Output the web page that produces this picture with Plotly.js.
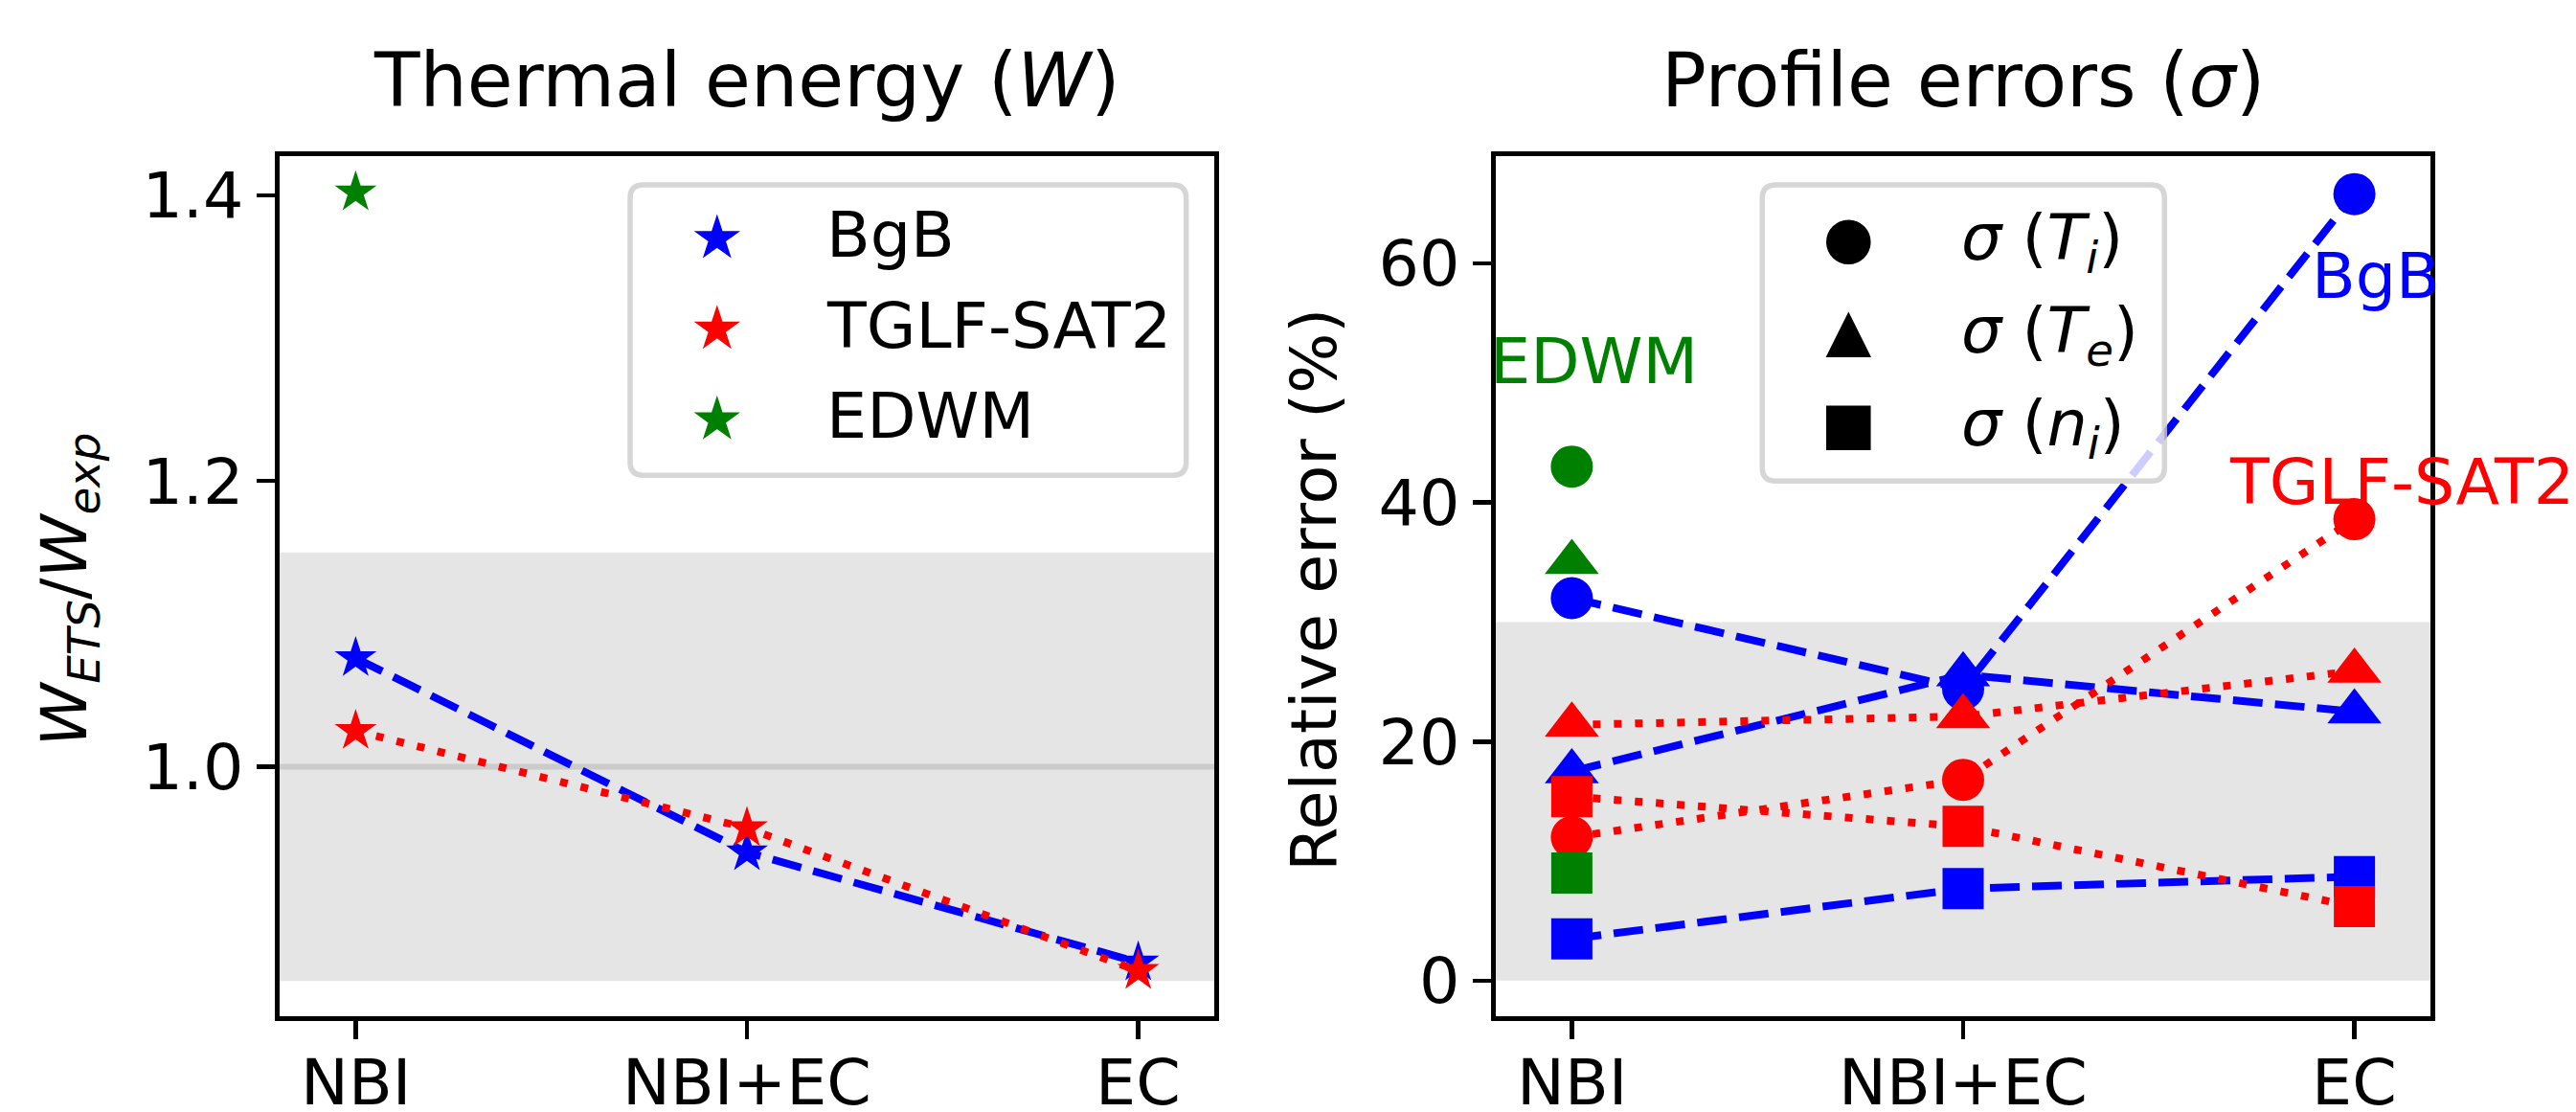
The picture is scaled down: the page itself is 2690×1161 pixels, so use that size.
<!DOCTYPE html>
<html>
<head>
<meta charset="utf-8">
<script src="https://cdn.plot.ly/plotly-3.0.1.min.js"></script>
<style>
html,body{margin:0;padding:0;background:#ffffff;}
#chart{width:2690px;height:1161px;}
</style>
</head>
<body>
<div id="chart"></div>
<script>
// ---------------- DATA ----------------
const categories = ['NBI', 'NBI+EC', 'EC'];

// Thermal energy ratio W_ETS / W_exp
const energyBgB  = [1.076, 0.940, 0.863];
const energyTGLF = [1.025, 0.957, 0.857];
const energyEDWMCats = ['NBI'];
const energyEDWM = [1.402];
const energyBand = [0.85, 1.15];
const energyRef  = [1.0];
const energyTicks = [1.0, 1.2, 1.4];

// Profile errors (%)
const errBgBTi  = [32.0, 24.4, 65.8];
const errBgBTe  = [17.5, 25.6, 22.5];
const errBgBni  = [3.5, 7.7, 8.7];
const errTGLFTi = [12.0, 16.8, 38.6];
const errTGLFTe = [21.4, 22.1, 25.9];
const errTGLFni = [15.4, 12.9, 6.2];
const errEDWMCats = ['NBI'];
const errEDWMTi = [43.0];
const errEDWMTe = [35.0];
const errEDWMni = [9.0];
const errorBand = [0, 30];
const errorTicks = [0, 20, 40, 60];

const modelNames = ['BgB', 'TGLF-SAT2', 'EDWM'];
const quantityLabels = [
  '<i>σ</i> (<i>T</i><sub><i>i</i></sub>)',
  '<i>σ</i> (<i>T</i><sub><i>e</i></sub>)',
  '<i>σ</i> (<i>n</i><sub><i>i</i></sub>)'
];

// ---------------- STYLE / LAYOUT ----------------
const W = 2690, H = 1161;
const FONT = 'DejaVu Sans, sans-serif';
const colors = {BgB: '#0000ff', TGLF: '#ff0000', EDWM: '#008000'};
const LW = 8;
const dashed = '31px,13px';
const dotted = '8px,14px';
const starSize = 33, circSize = 44, triSize = 49, sqSize = 43;
const tickFont = 66.7, titleFont = 77.8;

const leftPx = [291.7, 1268.3], rightPx = [1561.7, 2538.3], vPx = [162.7, 1061.3];
const fx = p => p / W;
const fy = p => 1 - p / H;
const xRange = [-0.195, 2.195];
const yRange1 = [0.8251, 1.4276];
const yRange2 = [-3.0, 69.0];

function axisX(domainPx, anchor) {
  return {
    domain: [fx(domainPx[0]), fx(domainPx[1])], anchor: anchor,
    type: 'category', categoryarray: categories, range: xRange,
    showline: true, linewidth: 4.5, linecolor: '#000', mirror: true,
    ticks: 'outside', ticklen: 19.4, tickwidth: 4.5, tickcolor: '#000',
    showticklabels: false, showgrid: false, zeroline: false
  };
}
function axisY(range, ticks, fmt, anchor) {
  return {
    domain: [fy(vPx[1]), fy(vPx[0])], anchor: anchor, range: range,
    tickvals: ticks, ticktext: ticks.map(v => fmt(v)),
    showline: true, linewidth: 4.5, linecolor: '#000', mirror: true,
    ticks: 'outside', ticklen: 19.4, tickwidth: 4.5, tickcolor: '#000',
    showgrid: false, zeroline: false,
    tickfont: {family: FONT, size: tickFont, color: '#000'}
  };
}
function pixelAxis(domainPx, range, anchor, isY) {
  return {
    domain: isY ? [fy(domainPx[1]), fy(domainPx[0])] : [fx(domainPx[0]), fx(domainPx[1])],
    range: range, anchor: anchor, visible: false, showgrid: false, zeroline: false, fixedrange: true
  };
}

// ---------------- TRACES ----------------
function line(x, y, color, dash, symbol, size, xa, ya, name) {
  return {
    type: 'scatter', mode: 'lines+markers', x: x, y: y, name: name,
    xaxis: xa, yaxis: ya, showlegend: false, hoverinfo: 'skip',
    line: {color: color, width: LW, dash: dash},
    marker: {symbol: symbol, size: size, color: color, line: {width: 0}}
  };
}
function pts(x, y, color, symbol, size, xa, ya, name) {
  return {
    type: 'scatter', mode: 'markers', x: x, y: y, name: name,
    xaxis: xa, yaxis: ya, showlegend: false, hoverinfo: 'skip',
    marker: {symbol: symbol, size: size, color: color, line: {width: 0}}
  };
}

const traces = [
  line(categories, energyBgB, colors.BgB, dashed, 'star', starSize, 'x', 'y', modelNames[0]),
  line(categories, energyTGLF, colors.TGLF, dotted, 'star', starSize, 'x', 'y', modelNames[1]),
  pts(energyEDWMCats, energyEDWM, colors.EDWM, 'star', starSize, 'x', 'y', modelNames[2]),

  line(categories, errBgBTi, colors.BgB, dashed, 'circle', circSize, 'x2', 'y2', 'BgB Ti'),
  line(categories, errBgBTe, colors.BgB, dashed, 'triangle-up', triSize, 'x2', 'y2', 'BgB Te'),
  line(categories, errBgBni, colors.BgB, dashed, 'square', sqSize, 'x2', 'y2', 'BgB ni'),
  line(categories, errTGLFTi, colors.TGLF, dotted, 'circle', circSize, 'x2', 'y2', 'TGLF Ti'),
  line(categories, errTGLFTe, colors.TGLF, dotted, 'triangle-up', triSize, 'x2', 'y2', 'TGLF Te'),
  line(categories, errTGLFni, colors.TGLF, dotted, 'square', sqSize, 'x2', 'y2', 'TGLF ni'),
  pts(errEDWMCats, errEDWMTi, colors.EDWM, 'circle', circSize, 'x2', 'y2', 'EDWM Ti'),
  pts(errEDWMCats, errEDWMTe, colors.EDWM, 'triangle-up', triSize, 'x2', 'y2', 'EDWM Te'),
  pts(errEDWMCats, errEDWMni, colors.EDWM, 'square', sqSize, 'x2', 'y2', 'EDWM ni')
];

// ---------------- LEGENDS (pixel-scaled overlay axes, drawn above the data) ----------------
const leg1 = {box: [658, 193, 1238.7, 496.3], mx: 748.8, row0: 249, gap: 94.65, tx: 861, tshift: 4};
const leg2 = {box: [1840.3, 193, 2260.3, 502.2], mx: 1930.3, row0: 252.7, gap: 97, tx: 2046, tshift: 0};
const legColors1 = [colors.BgB, colors.TGLF, colors.EDWM];
const legSymbols2 = ['circle', 'triangle', 'square'];
const legStarR = 23, legHalf = 22.5;

function roundRect(b, r) {
  const [x0, y0, x1, y1] = b;
  return `M${x0 + r},${y0} L${x1 - r},${y0} Q${x1},${y0} ${x1},${y0 + r} L${x1},${y1 - r} Q${x1},${y1} ${x1 - r},${y1} ` +
         `L${x0 + r},${y1} Q${x0},${y1} ${x0},${y1 - r} L${x0},${y0 + r} Q${x0},${y0} ${x0 + r},${y0} Z`;
}
function starPath(cx, cy, R) {
  const rIn = R * 0.382;
  let p = '';
  for (let k = 0; k < 10; k++) {
    const a = (-90 + k * 36) * Math.PI / 180;
    const rr = k % 2 === 0 ? R : rIn;
    p += (k === 0 ? 'M' : 'L') + (cx + rr * Math.cos(a)).toFixed(2) + ',' + (cy + rr * Math.sin(a)).toFixed(2) + ' ';
  }
  return p + 'Z';
}

const shapes = [
  {type: 'rect', xref: 'x', yref: 'y', x0: xRange[0], x1: xRange[1], y0: energyBand[0], y1: energyBand[1],
   fillcolor: '#e5e5e5', line: {width: 0}, layer: 'below'},
  {type: 'line', xref: 'x', yref: 'y', x0: xRange[0], x1: xRange[1], y0: energyRef[0], y1: energyRef[0],
   line: {color: '#cbcbcb', width: 6}, layer: 'below'},
  {type: 'rect', xref: 'x2', yref: 'y2', x0: xRange[0], x1: xRange[1], y0: errorBand[0], y1: errorBand[1],
   fillcolor: '#e5e5e5', line: {width: 0}, layer: 'below'},
  {type: 'path', xref: 'x3', yref: 'y3', path: roundRect(leg1.box, 14),
   fillcolor: 'rgba(255,255,255,0.8)', line: {color: 'rgba(204,204,204,0.8)', width: 5.5}, layer: 'above'},
  {type: 'path', xref: 'x4', yref: 'y4', path: roundRect(leg2.box, 14),
   fillcolor: 'rgba(255,255,255,0.8)', line: {color: 'rgba(204,204,204,0.8)', width: 5.5}, layer: 'above'}
];
// legend glyphs
modelNames.forEach((m, i) => {
  shapes.push({type: 'path', xref: 'x3', yref: 'y3', layer: 'above',
    path: starPath(leg1.mx, leg1.row0 + i * leg1.gap, legStarR),
    fillcolor: legColors1[i], line: {color: legColors1[i], width: 1.5}});
});
legSymbols2.forEach((s, i) => {
  const cx = leg2.mx, cy = leg2.row0 + i * leg2.gap, h = legHalf;
  const base = {xref: 'x4', yref: 'y4', layer: 'above', fillcolor: '#000', line: {color: '#000', width: 1.5}};
  if (s === 'circle') shapes.push(Object.assign({type: 'circle', x0: cx - h, x1: cx + h, y0: cy - h, y1: cy + h}, base));
  else if (s === 'square') shapes.push(Object.assign({type: 'rect', x0: cx - h, x1: cx + h, y0: cy - h, y1: cy + h}, base));
  else shapes.push(Object.assign({type: 'path', path: `M${cx},${cy - h} L${cx + h},${cy + h} L${cx - h},${cy + h} Z`}, base));
});

const annotations = [];
// titles
annotations.push({xref: 'paper', yref: 'paper', x: fx((leftPx[0] + leftPx[1]) / 2), y: fy(84),
  xanchor: 'center', yanchor: 'middle', showarrow: false, text: 'Thermal energy (<i>W</i>)',
  font: {family: FONT, size: titleFont, color: '#000'}});
annotations.push({xref: 'paper', yref: 'paper', x: fx((rightPx[0] + rightPx[1]) / 2), y: fy(84),
  xanchor: 'center', yanchor: 'middle', showarrow: false, text: 'Profile errors (<i>σ</i>)',
  font: {family: FONT, size: titleFont, color: '#000'}});
// x tick labels
categories.forEach(c => {
  ['x', 'x2'].forEach(xa => {
    annotations.push({xref: xa, yref: 'paper', x: c, y: fy(1130), xanchor: 'center', yanchor: 'middle',
      showarrow: false, text: c, font: {family: FONT, size: tickFont, color: '#000'}});
  });
});
// axis titles
annotations.push({xref: 'paper', yref: 'paper', x: fx(72), y: fy(615.6), textangle: -90,
  xanchor: 'center', yanchor: 'middle', showarrow: false,
  text: '<i>W</i><sub><i>ETS</i></sub>/<i>W</i><sub><i>exp</i></sub>',
  font: {family: FONT, size: tickFont, color: '#000'}});
annotations.push({xref: 'paper', yref: 'paper', x: fx(1371.8), y: fy(616), textangle: -90,
  xanchor: 'center', yanchor: 'middle', showarrow: false, text: 'Relative error (%)',
  font: {family: FONT, size: tickFont, color: '#000'}});
// model labels in right panel
const modelLabelPos = [[2.055, 59.0, colors.BgB], [2.12, 41.7, colors.TGLF], [0.056, 51.8, colors.EDWM]];
modelNames.forEach((m, i) => {
  annotations.push({xref: 'x2', yref: 'y2', x: modelLabelPos[i][0], y: modelLabelPos[i][1],
    xanchor: 'center', yanchor: 'middle', showarrow: false, text: m,
    font: {family: FONT, size: tickFont, color: modelLabelPos[i][2]}});
});
// legend texts
modelNames.forEach((m, i) => {
  annotations.push({xref: 'x3', yref: 'y3', x: leg1.tx, y: leg1.row0 + i * leg1.gap, yshift: leg1.tshift,
    xanchor: 'left', yanchor: 'middle', showarrow: false, text: m,
    font: {family: FONT, size: tickFont, color: '#000'}});
});
quantityLabels.forEach((q, i) => {
  annotations.push({xref: 'x4', yref: 'y4', x: leg2.tx, y: leg2.row0 + i * leg2.gap, yshift: leg2.tshift,
    xanchor: 'left', yanchor: 'middle', showarrow: false, text: q,
    font: {family: FONT, size: tickFont, color: '#000'}});
});

const layout = {
  width: W, height: H,
  margin: {l: 0, r: 0, t: 0, b: 0, pad: 0},
  paper_bgcolor: '#ffffff', plot_bgcolor: 'rgba(0,0,0,0)',
  font: {family: FONT, color: '#000'},
  showlegend: false,
  xaxis: axisX(leftPx, 'y'),
  yaxis: axisY(yRange1, energyTicks, v => v.toFixed(1), 'x'),
  xaxis2: axisX(rightPx, 'y2'),
  yaxis2: axisY(yRange2, errorTicks, v => String(v), 'x2'),
  xaxis3: pixelAxis(leftPx, leftPx, 'y3', false),
  yaxis3: pixelAxis(vPx, [vPx[1], vPx[0]], 'x3', true),
  xaxis4: pixelAxis(rightPx, rightPx, 'y4', false),
  yaxis4: pixelAxis(vPx, [vPx[1], vPx[0]], 'x4', true),
  shapes: shapes,
  annotations: annotations
};

Plotly.newPlot('chart', traces, layout, {staticPlot: true, displayModeBar: false});
</script>
</body>
</html>
